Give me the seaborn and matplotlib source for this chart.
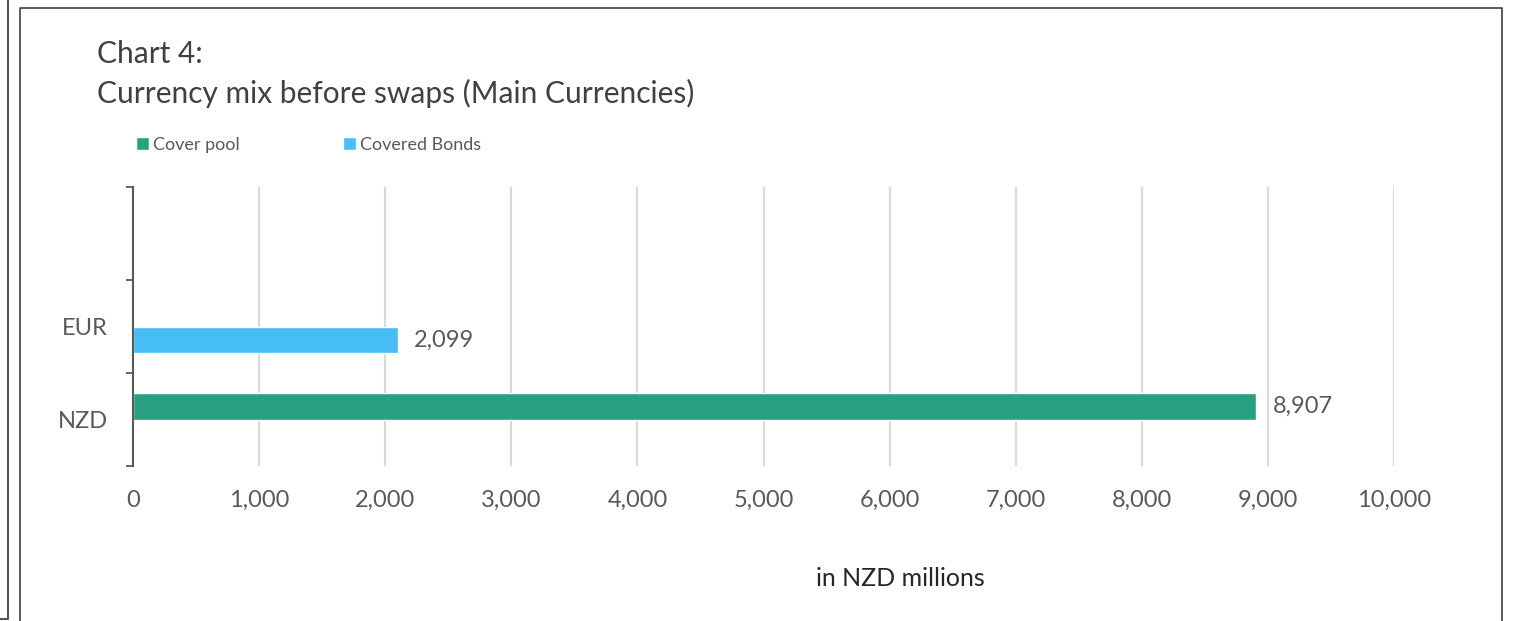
import numpy as np
import pandas as pd
import matplotlib
matplotlib.use("Agg")
import matplotlib.pyplot as plt
from matplotlib.lines import Line2D
import seaborn as sns

# Chart data
currencies = [" ", "EUR", "NZD"]
series_names = ["Cover pool", "Covered Bonds"]
cover_pool = [0, 0, 8907]
covered_bonds = [0, 2099, 0]
x_ticks = [0, 1000, 2000, 3000, 4000, 5000, 6000, 7000, 8000, 9000, 10000]

green = "#28A183"
blue = "#46BDF4"
text_grey = "#595959"

# long-form table for seaborn
df = pd.DataFrame({
    "currency": currencies * 2,
    "series": [series_names[0]] * 3 + [series_names[1]] * 3,
    "value": cover_pool + covered_bonds,
})

sns.set_style("white")
plt.rcParams["font.family"] = ["Lato", "DejaVu Sans"]

W, H = 1519, 621
fig = plt.figure(figsize=(W / 100, H / 100), dpi=100)
ax = fig.add_axes([133 / W, 1 - 466 / H, (1394 - 133) / W, (466 - 187) / H])

sns.barplot(data=df, y="currency", x="value", hue="series", order=currencies,
            hue_order=series_names, palette=[green, blue], orient="h",
            width=0.58, errorbar=None, saturation=1, ax=ax, legend=True)

# value labels, skip the empty bars
for cont in ax.containers:
    labels = [f"{v:,.0f}" if v > 0 else "" for v in cont.datavalues]
    ax.bar_label(cont, labels=labels, padding=12, fontsize=17, color=text_grey)

# axes styling
ax.set_xlim(0, 10000)
ax.set_ylim(2.5, -0.5)
ax.set_xticks(x_ticks)
ax.set_xticklabels([f"{t:,}" for t in x_ticks])
ax.tick_params(axis="x", length=0, pad=17, labelsize=17, labelcolor=text_grey)
ax.tick_params(axis="y", which="major", length=0, pad=18, labelsize=17, labelcolor=text_grey)
ax.set_yticks([-0.5, 0.5, 1.5, 2.5], minor=True)
ax.tick_params(axis="y", which="minor", length=5, width=1.3, color=text_grey, direction="out", left=True)
ax.grid(axis="x", color="#D9D9D9", linewidth=1.5)
ax.set_axisbelow(True)
for side in ["top", "right", "bottom"]:
    ax.spines[side].set_visible(False)
ax.spines["left"].set_color(text_grey)
ax.spines["left"].set_linewidth(1.5)
ax.spines["left"].set_zorder(3)
ax.set_xlabel("")
ax.set_ylabel("")

# legend at top left
handles, labels = ax.get_legend_handles_labels()
ax.legend(handles, labels, loc="center left", bbox_to_anchor=(120 / W, 1 - 145 / H),
          bbox_transform=fig.transFigure, ncol=2, frameon=False, fontsize=13,
          handlelength=0.7, handleheight=0.7, handletextpad=0.25, columnspacing=5.7,
          labelcolor=text_grey)

# title and axis caption
fig.text(97 / W, 1 - 40 / H, "Chart 4:", fontsize=21.5, color="#404040", va="top", ha="left")
fig.text(97 / W, 1 - 79 / H, "Currency mix before swaps (Main Currencies)", fontsize=21.5,
         color="#404040", va="top", ha="left")
fig.text(900 / W, 1 - 578 / H, "in NZD millions", fontsize=18, color="#262626",
         ha="center", va="center")

# panel borders
def fline(xs, ys, **kw):
    fig.add_artist(Line2D([x / W for x in xs], [1 - y / H for y in ys],
                          transform=fig.transFigure, **kw))

fline([20, 20, 1502, 1502], [621, 8, 8, 621], color="#404040", linewidth=1.2)
fline([0, 8, 8], [619, 619, 0], color="#555555", linewidth=1.5)

fig.savefig("out.png", dpi=100)
